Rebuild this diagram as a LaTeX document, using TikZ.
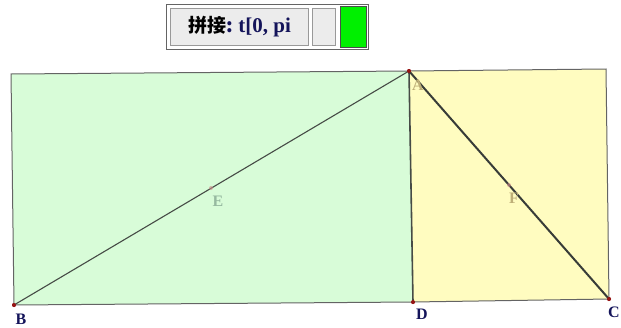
\documentclass[tikz,border=0pt]{standalone}
\usepackage{fontspec}
\setmainfont{Liberation Serif}
\newfontfamily\cjk{Noto Sans CJK SC}
\definecolor{mint}{RGB}{216,252,216}
\definecolor{paleyellow}{RGB}{255,252,192}
\definecolor{edgegray}{RGB}{100,100,100}
\definecolor{linedark}{RGB}{70,75,70}
\definecolor{ptred}{RGB}{150,20,20}
\definecolor{navy}{RGB}{20,20,90}
\definecolor{btn}{RGB}{236,236,236}
\definecolor{brightgreen}{RGB}{0,240,0}
\definecolor{fadetext}{RGB}{190,175,120}
\definecolor{fadetextg}{RGB}{150,185,160}
\tikzset{
  ptlabel/.style={font=\bfseries\fontsize{16}{16}\selectfont, text=navy, inner sep=0pt},
  fadelabel/.style={font=\bfseries\fontsize{16}{16}\selectfont, text=fadetext, inner sep=0pt},
  dot/.style={circle, fill=ptred, inner sep=0pt, minimum size=4pt},
  halfdot/.style={circle, fill=ptred!50!white, inner sep=0pt, minimum size=4pt, opacity=0.6},
  frame/.style={draw=edgegray, line width=1pt},
}
\begin{document}
\begin{tikzpicture}[x=1pt,y=-1pt]
\useasboundingbox (0,0) rectangle (621,327);
% points
\coordinate (G) at (11,74);
\coordinate (H) at (606,69);
\node[dot] (A) at (409,71) {};
\node[dot] (B) at (14,305) {};
\node[dot] (D) at (413,302) {};
\node[dot] (C) at (609,299) {};
% regions
\fill[mint] (G) -- (A.center) -- (D.center) -- (B.center) -- cycle;
\fill[paleyellow] (A.center) -- (H) -- (C.center) -- (D.center) -- cycle;
\draw[frame] (G) -- (A.center) -- (H) -- (C.center) -- (D.center) -- (B.center) -- cycle;
% segments
\draw[linedark, line width=1.1pt] (B.center) -- (A.center);
\draw[linedark, line width=1.6pt] (A.center) -- (D.center);
\draw[linedark!80!black, line width=2pt] (A.center) -- (C.center);
\node[halfdot] (E) at (211,188) {};
\node[halfdot] (F) at (509,185) {};
\node[dot] at (A) {};
\node[dot] at (B) {};
\node[dot] at (D) {};
\node[dot] at (C) {};
% labels
\node[ptlabel] (lB) at (21,319) {B};
\node[ptlabel] (lD) at (422,314) {D};
\node[ptlabel] (lC) at (614,312) {C};
\node[fadelabel] (lA) at (418,85) {A};
\node[fadelabel, text=fadetextg] (lE) at (218,201) {E};
\node[fadelabel] (lF) at (514,198) {F};
% control widget
\node[draw=edgegray, fill=white, line width=1pt, minimum width=202pt, minimum height=45pt, inner sep=0pt, anchor=north west] (panel) at (166,4) {};
\node[draw=gray!80, fill=btn, line width=1pt, minimum width=138pt, minimum height=37pt, inner sep=0pt, anchor=north west] (btnmain) at (170,8) {};
\node[inner sep=0pt] (btntext) at (btnmain.center) {\cjk\bfseries\fontsize{19}{19}\selectfont 拼接{\color{navy}:} {\rmfamily\bfseries\fontsize{21}{21}\selectfont\color{navy}t[0, pi}};
\node[draw=gray!80, fill=btn, line width=1pt, minimum width=23pt, minimum height=37pt, inner sep=0pt, anchor=north west] (btnside) at (312,8) {};
\node[draw=black!70, fill=brightgreen, line width=1pt, minimum width=26pt, minimum height=41pt, inner sep=0pt, anchor=north west] (swatch) at (340,6) {};
\end{tikzpicture}
\end{document}
